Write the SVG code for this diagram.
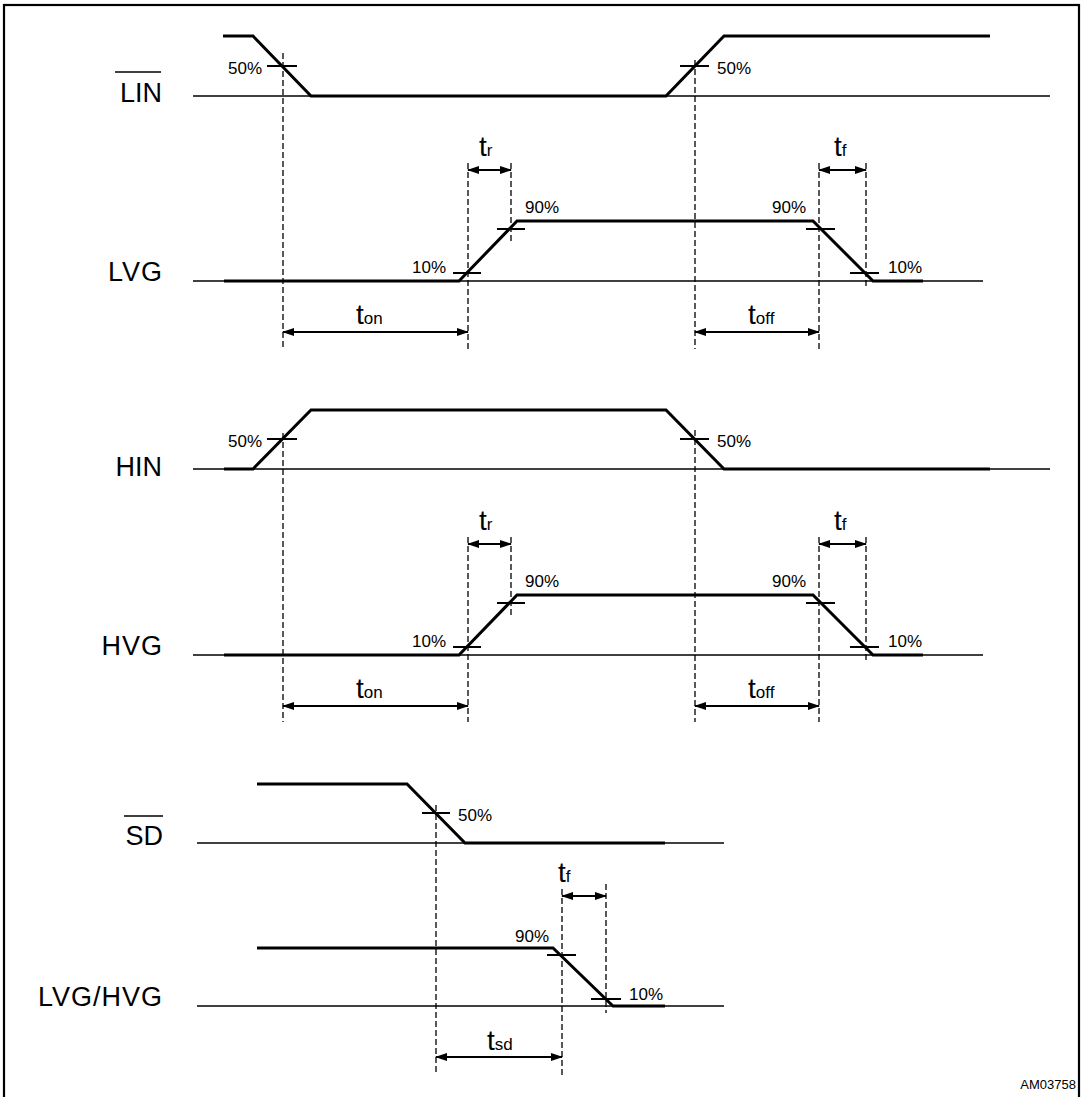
<svg xmlns="http://www.w3.org/2000/svg" width="1082" height="1097" viewBox="0 0 1082 1097">
<defs>
<style>
.sig{fill:none;stroke:#000;stroke-width:3;stroke-linejoin:miter}
.base{stroke:#000;stroke-width:1.3}
.tick{stroke:#000;stroke-width:2}
.dash{stroke:#000;stroke-width:1.3;stroke-dasharray:6,3}
.arr{stroke:#000;stroke-width:2.2;marker-start:url(#ah);marker-end:url(#ah)}
.lbl{font-family:"Liberation Sans",Arial,sans-serif;font-size:27px;fill:#000}
.pct{font-family:"Liberation Sans",Arial,sans-serif;font-size:17px;fill:#000}
.t{font-family:"Liberation Sans",Arial,sans-serif;font-size:28px;fill:#000}
.sub{font-size:17px}
.ovl{stroke:#000;stroke-width:1.5}
</style>
<marker id="ah" markerUnits="userSpaceOnUse" markerWidth="12" markerHeight="8" refX="11" refY="4" orient="auto-start-reverse">
<path d="M0,0 L12,4 L0,8 z" fill="#000"/>
</marker>
</defs>
<rect x="4" y="5" width="1075" height="1100" fill="#fff" stroke="#000" stroke-width="2.2"/>

<g id="connectors">
<line class="dash" x1="283" y1="53" x2="283" y2="349"/>
<line class="dash" x1="695" y1="60" x2="695" y2="349"/>
<line class="dash" x1="468" y1="163" x2="468" y2="349"/>
<line class="dash" x1="511" y1="163" x2="511" y2="243"/>
<line class="dash" x1="819" y1="163" x2="819" y2="349"/>
<line class="dash" x1="866" y1="163" x2="866" y2="289"/>
<line class="arr" x1="468" y1="170" x2="511" y2="170"/>
<line class="arr" x1="819" y1="170" x2="866" y2="170"/>
<line class="arr" x1="283" y1="332" x2="468" y2="332"/>
<line class="arr" x1="695" y1="332" x2="819" y2="332"/>

<line class="dash" x1="283" y1="433" x2="283" y2="722"/>
<line class="dash" x1="695" y1="430" x2="695" y2="722"/>
<line class="dash" x1="468" y1="537" x2="468" y2="722"/>
<line class="dash" x1="511" y1="537" x2="511" y2="617"/>
<line class="dash" x1="819" y1="537" x2="819" y2="722"/>
<line class="dash" x1="866" y1="537" x2="866" y2="662"/>
<line class="arr" x1="468" y1="544" x2="511" y2="544"/>
<line class="arr" x1="819" y1="544" x2="866" y2="544"/>
<line class="arr" x1="283" y1="706" x2="468" y2="706"/>
<line class="arr" x1="695" y1="706" x2="819" y2="706"/>

<line class="dash" x1="436" y1="805" x2="436" y2="1075"/>
<line class="dash" x1="562" y1="889" x2="562" y2="1075"/>
<line class="dash" x1="606" y1="884" x2="606" y2="1013"/>
<line class="arr" x1="562" y1="896" x2="606" y2="896"/>
<line class="arr" x1="436" y1="1057" x2="562" y2="1057"/>
</g>

<g id="node-LIN">
<text class="lbl" x="162" y="102" text-anchor="end">LIN</text>
<line class="ovl" x1="115" y1="72" x2="161" y2="72"/>
<line class="base" x1="193" y1="96" x2="1050" y2="96"/>
<path class="sig" d="M223,36 H253 L311,96 H666 L724,36 H990"/>
<line class="tick" x1="267" y1="66" x2="297" y2="66"/>
<line class="tick" x1="680" y1="66" x2="709" y2="66"/>
<text class="pct" x="262" y="74" text-anchor="end">50%</text>
<text class="pct" x="717" y="74">50%</text>
</g>

<g id="node-LVG">
<text class="lbl" x="163" y="281" text-anchor="end" letter-spacing="1">LVG</text>
<line class="base" x1="193" y1="281" x2="983" y2="281"/>
<path class="sig" d="M224,281 H459 L517,221 H813 L873,281 H923"/>
<line class="tick" x1="453" y1="273" x2="481" y2="273"/>
<line class="tick" x1="497" y1="229" x2="525" y2="229"/>
<line class="tick" x1="806" y1="229" x2="835" y2="229"/>
<line class="tick" x1="850" y1="273" x2="879" y2="273"/>
<text class="pct" x="412" y="273">10%</text>
<text class="pct" x="525" y="213">90%</text>
<text class="pct" x="772" y="213">90%</text>
<text class="pct" x="888" y="273">10%</text>
<text class="t" x="479" y="156">t<tspan class="sub">r</tspan></text>
<text class="t" x="834" y="156">t<tspan class="sub">f</tspan></text>
<text class="t" x="356" y="324">t<tspan class="sub">on</tspan></text>
<text class="t" x="748" y="324">t<tspan class="sub">off</tspan></text>
</g>

<g id="node-HIN">
<text class="lbl" x="162" y="476" text-anchor="end">HIN</text>
<line class="base" x1="193" y1="469" x2="1050" y2="469"/>
<path class="sig" d="M224,469 H253 L311,410 H666 L724,469 H990"/>
<line class="tick" x1="267" y1="439" x2="297" y2="439"/>
<line class="tick" x1="680" y1="439" x2="709" y2="439"/>
<text class="pct" x="262" y="447" text-anchor="end">50%</text>
<text class="pct" x="717" y="447">50%</text>
</g>

<g id="node-HVG">
<text class="lbl" x="163" y="655" text-anchor="end" letter-spacing="1">HVG</text>
<line class="base" x1="193" y1="655" x2="983" y2="655"/>
<path class="sig" d="M224,655 H459 L517,595 H813 L873,655 H923"/>
<line class="tick" x1="453" y1="647" x2="481" y2="647"/>
<line class="tick" x1="497" y1="603" x2="525" y2="603"/>
<line class="tick" x1="806" y1="603" x2="835" y2="603"/>
<line class="tick" x1="850" y1="647" x2="879" y2="647"/>
<text class="pct" x="412" y="647">10%</text>
<text class="pct" x="525" y="587">90%</text>
<text class="pct" x="772" y="587">90%</text>
<text class="pct" x="888" y="647">10%</text>
<text class="t" x="479" y="530">t<tspan class="sub">r</tspan></text>
<text class="t" x="834" y="530">t<tspan class="sub">f</tspan></text>
<text class="t" x="356" y="698">t<tspan class="sub">on</tspan></text>
<text class="t" x="748" y="698">t<tspan class="sub">off</tspan></text>
</g>

<g id="node-SD">
<text class="lbl" x="163" y="845" text-anchor="end">SD</text>
<line class="ovl" x1="124" y1="816" x2="163" y2="816"/>
<line class="base" x1="197" y1="843" x2="724" y2="843"/>
<path class="sig" d="M257,784 H407 L465,843 H665"/>
<line class="tick" x1="422" y1="813" x2="450" y2="813"/>
<text class="pct" x="458" y="821">50%</text>
</g>

<g id="node-LVGHVG">
<text class="lbl" x="163" y="1006" text-anchor="end" letter-spacing="1">LVG/HVG</text>
<line class="base" x1="197" y1="1006" x2="724" y2="1006"/>
<path class="sig" d="M257,948 H553 L613,1006 H665"/>
<line class="tick" x1="547" y1="955" x2="576" y2="955"/>
<line class="tick" x1="591" y1="999" x2="621" y2="999"/>
<text class="pct" x="515" y="942">90%</text>
<text class="pct" x="629" y="1000">10%</text>
<text class="t" x="558" y="882">t<tspan class="sub">f</tspan></text>
<text class="t" x="487" y="1050">t<tspan class="sub">sd</tspan></text>
</g>

<text class="pct" x="1076" y="1089" text-anchor="end" style="font-size:13px">AM03758</text>
</svg>
